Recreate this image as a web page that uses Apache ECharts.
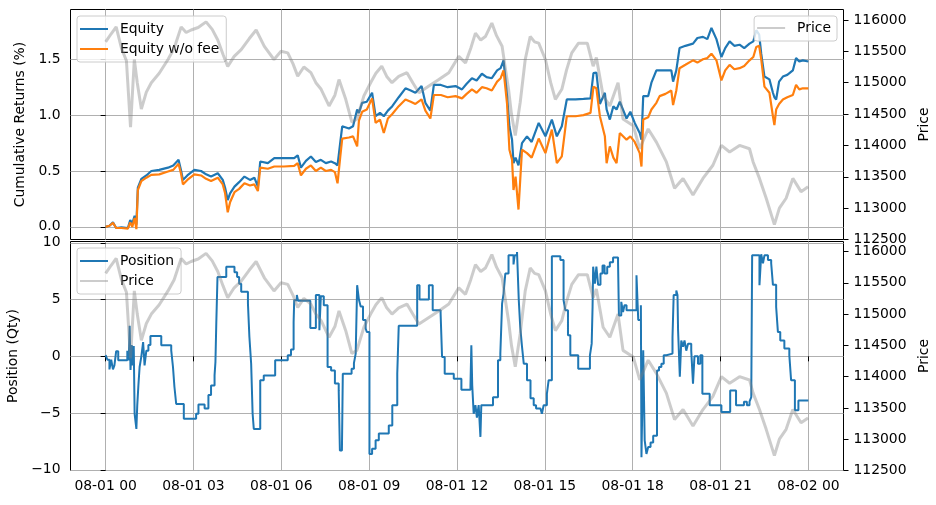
<!doctype html>
<html>
<head>
<meta charset="utf-8">
<title>Equity / Position vs Price</title>
<script src="https://cdn.jsdelivr.net/npm/echarts@6/dist/echarts.min.js"></script>
<style>
  html, body { margin: 0; padding: 0; background: #fff; }
  #main { width: 936px; height: 505px; }
</style>
</head>
<body>
<div id="main"></div>
<script>
// time is in hours after 08-01 00:00
var xTickHours = [0, 3, 6, 9, 12, 15, 18, 21, 24];
var xTickLabels = ['08-01 00', '08-01 03', '08-01 06', '08-01 09', '08-01 12',
                   '08-01 15', '08-01 18', '08-01 21', '08-02 00'];
var returnTicks = [0, 0.5, 1, 1.5];
var positionTicks = [-10, -5, 0, 5, 10];
var priceTicks = [112500, 113000, 113500, 114000, 114500, 115000, 115500, 116000];

// cumulative returns (%)
var eqHours = [
  0, 0.13, 0.25, 0.36, 0.54, 0.76, 0.84, 0.91, 0.99, 1.05,
  1.10, 1.22, 1.39, 1.56, 1.83, 2.13, 2.31, 2.49, 2.58, 2.64,
  2.79, 3.03, 3.26, 3.43, 3.60, 3.83, 4.00, 4.08, 4.17, 4.25,
  4.40, 4.56, 4.74, 4.93, 5.08, 5.20, 5.28, 5.54, 5.76, 6.09,
  6.44, 6.56, 6.67, 6.84, 7.01, 7.18, 7.35, 7.52, 7.70, 7.83,
  7.92, 8.01, 8.08, 8.31, 8.45, 8.59, 8.65, 8.76, 8.92, 9.10,
  9.22, 9.37, 9.50, 9.64, 9.79, 10.01, 10.24, 10.42, 10.58, 10.79,
  10.92, 11.09, 11.21, 11.45, 11.68, 11.95, 12.17, 12.33, 12.51, 12.67,
  12.85, 13.01, 13.19, 13.37, 13.49, 13.59, 13.71, 13.79, 13.88, 13.93,
  14.00, 14.10, 14.22, 14.39, 14.55, 14.79, 15.02, 15.24, 15.41, 15.58,
  15.75, 16.05, 16.32, 16.56, 16.66, 16.76, 16.88, 17.05, 17.11, 17.22,
  17.34, 17.45, 17.56, 17.79, 17.92, 18.07, 18.24, 18.30, 18.36, 18.53,
  18.64, 18.81, 18.92, 19.12, 19.32, 19.38, 19.49, 19.60, 19.80, 20.06,
  20.21, 20.40, 20.55, 20.69, 20.86, 21.03, 21.16, 21.31, 21.47, 21.65,
  21.81, 21.99, 22.12, 22.22, 22.32, 22.39, 22.50, 22.67, 22.79, 22.84,
  22.90, 23.00, 23.13, 23.28, 23.47, 23.58, 23.69, 23.81, 24.00
];
var equity = [
  0, 0.01, 0.04, -0.01, -0.005, -0.01, 0.06, 0.03, 0.10, 0.02,
  0.35, 0.43, 0.46, 0.50, 0.51, 0.53, 0.55, 0.60, 0.50, 0.42,
  0.46, 0.51, 0.50, 0.47, 0.45, 0.48, 0.42, 0.35, 0.24, 0.30,
  0.36, 0.40, 0.45, 0.42, 0.44, 0.36, 0.585, 0.57, 0.615, 0.615,
  0.615, 0.64, 0.53, 0.59, 0.63, 0.58, 0.60, 0.57, 0.585, 0.57,
  0.55, 0.75, 0.90, 0.88, 0.90, 1.05, 1.02, 1.11, 1.12, 1.20,
  0.99, 1.02, 0.99, 1.04, 1.08, 1.16, 1.24, 1.22, 1.20, 1.26,
  1.11, 1.04, 1.27, 1.27, 1.25, 1.26, 1.23, 1.28, 1.33, 1.31,
  1.37, 1.34, 1.33, 1.40, 1.42, 1.49, 1.17, 0.90, 0.78, 0.57,
  0.62, 0.55, 0.75, 0.81, 0.76, 0.93, 0.81, 0.96, 0.81, 0.90,
  1.14, 1.14, 1.145, 1.15, 1.375, 1.38, 1.10, 1.20, 1.05, 0.96,
  1.08, 1.05, 1.12, 0.97, 1.03, 0.93, 0.84, 0.78, 1.17, 1.17,
  1.29, 1.40, 1.40, 1.40, 1.40, 1.30, 1.40, 1.60, 1.62, 1.64,
  1.69, 1.70, 1.68, 1.78, 1.68, 1.52, 1.60, 1.66, 1.62, 1.63,
  1.60, 1.64, 1.66, 1.76, 1.72, 1.55, 1.345, 1.32, 1.20, 1.16,
  1.14, 1.30, 1.345, 1.36, 1.40, 1.51, 1.48, 1.49, 1.48
];
var equityNoFee = [
  0, 0.01, 0.035, -0.01, -0.01, -0.015, 0.04, 0.0, 0.08, -0.02,
  0.33, 0.41, 0.44, 0.465, 0.47, 0.495, 0.51, 0.565, 0.47, 0.38,
  0.42, 0.47, 0.46, 0.43, 0.41, 0.44, 0.38, 0.30, 0.13, 0.22,
  0.31, 0.34, 0.39, 0.37, 0.38, 0.32, 0.53, 0.52, 0.54, 0.54,
  0.545, 0.57, 0.46, 0.52, 0.55, 0.50, 0.53, 0.50, 0.51, 0.49,
  0.39, 0.62, 0.79, 0.80, 0.81, 0.72, 0.95, 1.03, 1.05, 1.15,
  0.93, 0.96, 0.84, 0.97, 1.01, 1.08, 1.14, 1.12, 1.10, 1.14,
  1.04, 0.97, 1.18, 1.18, 1.16, 1.17, 1.15, 1.19, 1.23, 1.20,
  1.25, 1.24, 1.22, 1.30, 1.33, 1.40, 1.10, 0.69, 0.60, 0.33,
  0.45, 0.155, 0.69, 0.66, 0.62, 0.79, 0.66, 0.87, 0.57, 0.63,
  0.99, 0.99, 1.00, 1.02, 1.255, 1.24, 0.99, 0.81, 0.57, 0.72,
  0.62, 0.57, 0.84, 0.78, 0.81, 0.76, 0.66, 0.54, 0.96, 0.98,
  1.05, 1.11, 1.17, 1.19, 1.22, 1.09, 1.22, 1.42, 1.45, 1.49,
  1.47, 1.50, 1.51, 1.55, 1.49, 1.31, 1.40, 1.45, 1.41, 1.42,
  1.44, 1.49, 1.52, 1.61, 1.62, 1.50, 1.255, 1.20, 0.99, 0.91,
  1.05, 1.10, 1.14, 1.16, 1.18, 1.27, 1.23, 1.24, 1.24
];

// price
var priceHours = [
  0, 0.19, 0.36, 0.54, 0.71, 0.85, 0.98, 1.08, 1.22, 1.39,
  1.56, 1.83, 2.13, 2.34, 2.58, 2.75, 2.92, 3.16, 3.43, 3.64,
  3.83, 4.01, 4.17, 4.39, 4.63, 4.90, 5.14, 5.42, 5.75, 5.99,
  6.22, 6.40, 6.56, 6.77, 7.01, 7.18, 7.36, 7.63, 7.83, 7.97,
  8.20, 8.41, 8.58, 8.82, 9.05, 9.23, 9.43, 9.60, 9.78, 10.01,
  10.29, 10.49, 10.70, 11.04, 11.38, 11.72, 12.06, 12.29, 12.47, 12.63,
  12.81, 12.97, 13.19, 13.35, 13.54, 13.66, 13.76, 13.86, 13.99, 14.16,
  14.33, 14.50, 14.65, 14.79, 15.02, 15.20, 15.36, 15.58, 15.74, 15.92,
  16.15, 16.45, 16.65, 16.76, 16.99, 17.22, 17.50, 17.67, 18.02, 18.24,
  18.53, 18.81, 19.15, 19.43, 19.72, 20.06, 20.40, 20.74, 21.03, 21.31,
  21.65, 21.99, 22.11, 22.33, 22.56, 22.84, 23.01, 23.24, 23.47, 23.75,
  23.99
];
var price = [
  115650, 115780, 115890, 115550, 115350, 114290, 115370, 115000, 114580, 114850,
  115000, 115150, 115370, 115550, 115890, 115800, 115840, 115880, 115970, 115850,
  115680, 115450, 115260, 115420, 115526, 115700, 115840, 115580, 115370, 115500,
  115475, 115300, 115105, 115250, 115160, 115000, 114895, 114630, 114800, 115050,
  114735, 114370, 114420, 114790, 115000, 115150, 115263, 115100, 115000, 115100,
  115160, 115000, 114840, 114947, 115050, 115160, 115420, 115316, 115550, 115790,
  115680, 115736, 115950, 115750, 115580, 115200, 114895, 114500, 114158, 114690,
  115370, 115736, 115650, 115630, 115370, 115000, 114735, 114895, 115200, 115475,
  115630, 115630, 115263, 115400, 114790, 114630, 115000, 114420, 114315, 113947,
  114263, 114053, 113737, 113316, 113474, 113210, 113474, 113684, 114000, 113895,
  114000, 113947, 113740, 113474, 113158, 112737, 113000, 113158, 113474, 113263,
  113340
];

// position (qty), value holds until the next time
var posHours = [
  0, 0.06, 0.13, 0.19, 0.25, 0.30, 0.36, 0.43, 0.74, 0.79,
  0.82, 0.85, 0.89, 0.92, 0.96, 0.99, 1.05, 1.08, 1.12, 1.16,
  1.22, 1.28, 1.33, 1.39, 1.46, 1.53, 1.90, 2.24, 2.30, 2.35,
  2.41, 2.67, 3.09, 3.17, 3.38, 3.51, 3.60, 3.72, 3.75, 3.78,
  3.82, 4.12, 4.40, 4.49, 4.56, 4.63, 4.86, 4.91, 4.97, 5.02,
  5.06, 5.28, 5.40, 5.79, 6.22, 6.33, 6.42, 6.44, 6.53, 6.57,
  6.99, 7.18, 7.30, 7.35, 7.45, 7.58, 7.70, 7.83, 7.96, 8.00,
  8.07, 8.10, 8.40, 8.48, 8.54, 8.59, 8.65, 8.71, 8.79, 8.88,
  8.92, 9.01, 9.10, 9.22, 9.33, 9.67, 9.79, 9.96, 10.01, 10.64,
  10.72, 11.04, 11.17, 11.44, 11.49, 11.58, 11.89, 12.15, 12.46, 12.49,
  12.52, 12.57, 12.63, 12.68, 12.74, 12.80, 12.83, 13.23, 13.40, 13.48,
  13.54, 13.59, 13.65, 13.76, 13.93, 13.97, 14.05, 14.11, 14.16, 14.22,
  14.28, 14.39, 14.51, 14.62, 14.70, 14.85, 14.90, 14.96, 15.07, 15.13,
  15.24, 15.53, 15.64, 15.70, 15.79, 15.87, 16.14, 16.54, 16.60, 16.63,
  16.65, 16.71, 16.76, 16.82, 16.90, 16.97, 17.04, 17.13, 17.22, 17.33,
  17.50, 17.53, 17.61, 17.67, 17.72, 17.79, 18.13, 18.19, 18.28, 18.30,
  18.36, 18.41, 18.47, 18.53, 18.61, 18.70, 18.83, 18.90, 18.98, 19.06,
  19.15, 19.36, 19.40, 19.49, 19.53, 19.55, 19.61, 19.66, 19.72, 19.77,
  19.83, 19.89, 20.00, 20.06, 20.11, 20.23, 20.31, 20.38, 20.63, 21.03,
  21.33, 21.53, 21.80, 21.90, 21.99, 22.05, 22.08, 22.33, 22.39, 22.45,
  22.50, 22.62, 22.73, 22.79, 22.90, 22.96, 23.04, 23.18, 23.35, 23.41,
  23.54, 23.66, 24.00
];
var position = [
  0.1, -0.3, -1.15, -0.3, -1.15, -0.8, 0.45, -0.35, 0.5, -0.35,
  2.7, -1.2, 1.0, -0.8, 0.9, -5.06, -6.4, -4.3, -2.5, -0.94,
  0.0, 1.26, -0.8, 0.5, 1.0, 1.8, 0.97, 0.53, -0.94, -2.7,
  -4.2, -5.5, -5.06, -4.24, -4.6, -3.4, -2.56, -1.68, -0.5, 3.0,
  7.0, 7.9, 7.4, 7.0, 6.4, 5.7, 4.65, 1.7, -0.65, -5.06,
  -6.4, -2.1, -1.68, -0.35, 0.1, 0.6, 3.0, 4.94, 5.4, 4.9,
  2.5, 5.4, 2.3, 5.3, 4.5, -0.94, -1.24, -2.4, -3.0, -8.3,
  -8.15, -1.53, -1.1, -0.6, 0.24, 6.27, 5.0, 4.4, 3.2, 2.45,
  2.14, -8.6, -8.15, -7.4, -6.8, -6.1, -4.3, -1.5, 2.7, 6.27,
  5.0, 6.27, 4.06, 3.77, -0.06, -1.53, -1.97, -2.94, -2.56, 0.97,
  -2.56, -5.06, -4.3, -5.4, -4.3, -7.1, -4.3, -3.6, -0.35, 0.24,
  4.65, 5.53, 7.3, 8.9, 8.1, 8.9, 9.2, 4.94, 2.6, 0.85,
  -0.65, -2.1, -3.7, -4.3, -4.6, -4.7, -5.06, -4.3, -3.3, -2.1,
  8.83, 8.5, 4.94, 4.06, 1.85, 0.09, -1.1, 0.09, 1.12, 4.35,
  7.9, 6.4, 7.9, 6.3, 7.3, 8.0, 7.3, 7.9, 8.3, 8.7,
  8.3, 3.6, 4.8, 3.9, 4.5, 4.06, 7.15, 3.2, 4.5, -8.9,
  0.53, -7.4, -8.6, -8.0, -7.6, -7.0, -1.24, -0.94, -0.65, 0.09,
  0.24, 1.7, 5.4, 5.8, 5.4, 2.3, -1.8, 1.4, 0.85, 1.4,
  0.5, 1.1, 0.5, -2.4, 0.0, -0.65, 0.09, -3.3, -4.3, -4.9,
  -3.0, -4.3, -4.0, -4.3, -4.0, -3.6, 8.9, 6.27, 9.0, 8.2,
  8.9, 8.5, 8.2, 6.3, 4.35, 2.14, 1.4, 0.68, 0.09, -2.1,
  -4.76, -3.9, -3.9
];

function zip(xs, ys) {
  return xs.map(function (x, i) { return [x, ys[i]]; });
}
function minus(s) { return String(s).replace('-', '\u2212'); }

var FONT = 'DejaVu Sans';
var FS = 13.9;
var BLUE = '#1f77b4', ORANGE = '#ff7f0e', GREY = 'rgba(128,128,128,0.4)';
var gridLine = { show: true, lineStyle: { color: '#b0b0b0', width: 1 } };
var tick = { show: true, length: 5, lineStyle: { color: '#000', width: 1 } };
var lbl = { color: '#000', fontFamily: FONT, fontSize: FS, margin: 10 };

function xAxis(grid, showLabels) {
  return {
    type: 'value', gridIndex: grid, min: -1.2, max: 25.2,
    axisLine: { show: false },
    axisTick: Object.assign({}, tick, { show: showLabels, customValues: xTickHours }),
    axisLabel: Object.assign({}, lbl, {
      show: showLabels, customValues: xTickHours, margin: 9,
      formatter: function (v) { return xTickLabels[xTickHours.indexOf(v)]; }
    }),
    splitLine: gridLine
  };
}
function yAxis(grid, side, min, max, ticks, fmt, name, gap, gridOn) {
  return {
    type: 'value', gridIndex: grid, position: side, min: min, max: max,
    name: name, nameLocation: 'middle', nameGap: gap, nameRotate: 90,
    nameTextStyle: { color: '#000', fontFamily: FONT, fontSize: FS },
    axisLine: { show: false },
    axisTick: Object.assign({}, tick, { customValues: ticks }),
    axisLabel: Object.assign({}, lbl, { customValues: ticks, formatter: fmt }),
    splitLine: gridOn ? gridLine : { show: false }
  };
}
function legend(opts) {
  return Object.assign({
    orient: 'vertical', selectedMode: false,
    icon: 'rect', itemWidth: 28, itemHeight: 2, itemGap: 6,
    padding: [6, 7, 6, 3],
    backgroundColor: 'rgba(255,255,255,0.8)',
    borderColor: '#cccccc', borderWidth: 1, borderRadius: 3,
    textStyle: { color: '#000', fontFamily: FONT, fontSize: FS, padding: [0, 0, 0, 7] }
  }, opts);
}
function lineSeries(name, xi, yi, data, color, width, z, step) {
  return {
    name: name, type: 'line', xAxisIndex: xi, yAxisIndex: yi,
    data: data, symbol: 'none', step: step || false, z: z,
    color: color, lineStyle: { color: color, width: width },
    emphasis: { disabled: true }
  };
}

var chart = echarts.init(document.getElementById('main'), null, { renderer: 'canvas' });
chart.setOption({
  animation: false,
  textStyle: { fontFamily: FONT },
  grid: [
    { left: 70.5, top: 9.5, width: 773, height: 230, outerBoundsMode: 'none', containLabel: false,
      show: true, borderColor: '#000', borderWidth: 1 },
    { left: 70.5, top: 241.5, width: 773, height: 229, outerBoundsMode: 'none', containLabel: false,
      show: true, borderColor: '#000', borderWidth: 1 }
  ],
  xAxis: [xAxis(0, false), xAxis(1, true)],
  yAxis: [
    yAxis(0, 'left', -0.113, 1.945, returnTicks, function (v) { return v.toFixed(1); },
          'Cumulative Returns (%)', 39, true),
    yAxis(0, 'right', 112500, 116167, priceTicks, function (v) { return String(v); },
          'Price', 68, false),
    yAxis(1, 'left', -10.06, 10.12, positionTicks, function (v) { return minus(v); },
          'Position (Qty)', 47, true),
    yAxis(1, 'right', 112500, 116160, priceTicks, function (v) { return String(v); },
          'Price', 68, false)
  ],
  legend: [
    legend({ left: 77, top: 16, z: 2, data: ['Equity', 'Equity w/o fee'] }),
    legend({ right: 99, top: 16, z: 4, padding: [5, 6, 6, 3], data: ['Price'] }),
    legend({ left: 77, top: 248, z: 2, data: ['Position', 'Price'] })
  ],
  series: [
    lineSeries('Equity', 0, 0, zip(eqHours, equity), BLUE, 2.2, 1),
    lineSeries('Equity w/o fee', 0, 0, zip(eqHours, equityNoFee), ORANGE, 2.2, 1),
    lineSeries('Price', 0, 1, zip(priceHours, price), GREY, 3, 3),
    lineSeries('Position', 1, 2, zip(posHours, position), BLUE, 2, 1, 'end'),
    lineSeries('Price', 1, 3, zip(priceHours, price), GREY, 3, 3)
  ]
});
</script>
</body>
</html>
